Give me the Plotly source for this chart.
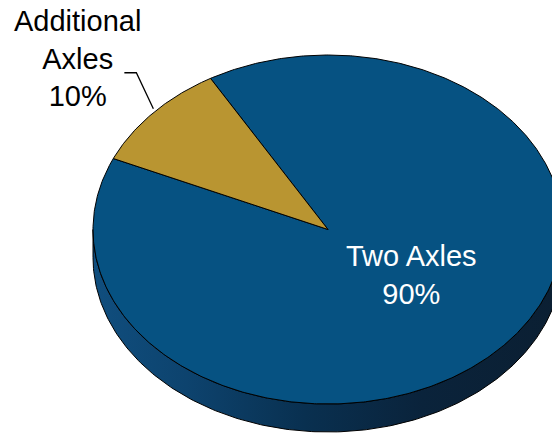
import numpy as np
import plotly.graph_objects as go

# Share of vehicles by axle configuration
categories = ["Two Axles", "Additional Axles"]
label_lines = [["Two Axles"], ["Additional", "Axles"]]
shares = [90, 10]
colors = ["#065282", "#B99531"]

# Geometry of the tilted pie (pixel space)
W, H = 552, 435
CX, CY = 328, 229.5      # centre of the top face
RX, RY = 235, 174.5      # semi-axes of the top ellipse
DEPTH = 28               # thickness of the disc
START = 120.0            # angle (deg) where the first slice starts, going clockwise

def ellipse_pts(t0, t1, n=200, dy=0.0):
    t = np.radians(np.linspace(t0, t1, n))
    return CX + RX * np.cos(t), CY - RY * np.sin(t) + dy

fig = go.Figure()

# Side wall (front half of the disc)
xs_top, ys_top = ellipse_pts(180, 360)
xs_bot, ys_bot = ellipse_pts(360, 180, dy=DEPTH)
fig.add_trace(go.Scatter(
    x=np.concatenate([xs_top, xs_bot, xs_top[:1]]),
    y=np.concatenate([ys_top, ys_bot, ys_top[:1]]),
    mode="lines", fill="toself",
    fillgradient=dict(type="horizontal", colorscale=[
        [0.0, "#104E7E"], [0.2, "#0D436E"], [0.45, "#093050"],
        [0.7, "#0A233B"], [1.0, "#0B1F32"]]),
    line=dict(color="black", width=1), hoverinfo="skip", showlegend=False))

# Top face slices
total = sum(shares)
angle = START
mids = []
for name, val, col in zip(categories, shares, colors):
    sweep = 360.0 * val / total
    a0, a1 = angle, angle - sweep
    ex, ey = ellipse_pts(a0, a1, n=max(20, int(sweep * 2)))
    fig.add_trace(go.Scatter(
        x=np.concatenate([[CX], ex, [CX]]),
        y=np.concatenate([[CY], ey, [CY]]),
        mode="lines", fill="toself", fillcolor=col,
        line=dict(color="black", width=1), name=name,
        hoverinfo="name", showlegend=False))
    mids.append((a0 + a1) / 2.0)
    angle = a1

# Leader line for the small slice
m = np.radians(mids[1])
lx, ly = CX + RX * np.cos(m), CY - RY * np.sin(m)
fig.add_trace(go.Scatter(
    x=[lx, lx - 17, lx - 29], y=[ly - 4, ly - 40, ly - 40],
    mode="lines", line=dict(color="black", width=1.3),
    hoverinfo="skip", showlegend=False))

font = dict(family="Liberation Sans, Arial, sans-serif", size=29)
fig.add_annotation(
    x=411, y=275, xref="x", yref="y", showarrow=False,
    text="<br>".join(label_lines[0] + [f"{shares[0]}%"]),
    font=dict(font, color="white"), align="center")
fig.add_annotation(
    x=77, y=58, xref="x", yref="y", showarrow=False,
    text="<br>".join(label_lines[1] + [f"{shares[1]}%"]),
    font=dict(font, color="black"), align="center")

fig.update_layout(
    width=W, height=H, margin=dict(l=0, r=0, t=0, b=0),
    paper_bgcolor="white", plot_bgcolor="white",
    xaxis=dict(range=[0, W], visible=False, fixedrange=True),
    yaxis=dict(range=[H, 0], visible=False, fixedrange=True),
)
fig.write_html("out.html")
